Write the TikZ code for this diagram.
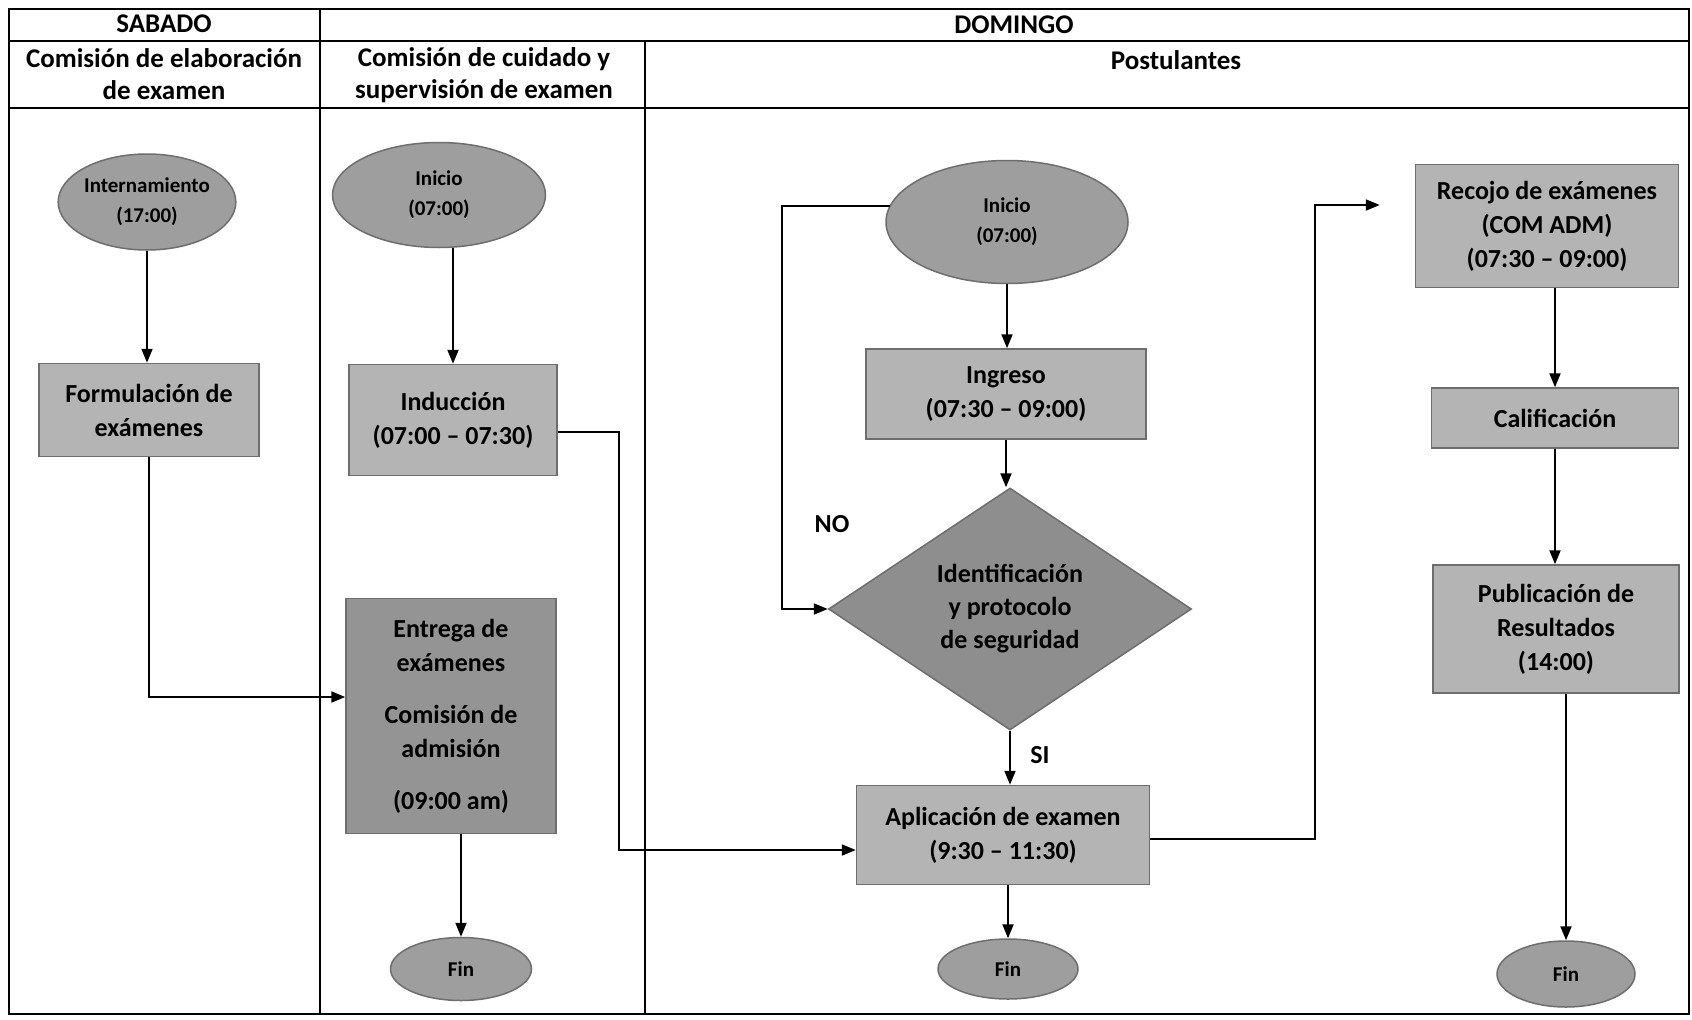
\documentclass[tikz,border=0pt]{standalone}
\usepackage{fontspec}
\setmainfont{Carlito}
\usetikzlibrary{shapes.geometric,arrows.meta,calc}
\definecolor{boxfill}{HTML}{B4B4B4}
\definecolor{ellfill}{HTML}{9E9E9E}
\definecolor{darkfill}{HTML}{8E8E8E}
\definecolor{edge}{HTML}{6E6E6E}
\tikzset{
  frame/.style={line width=2.4pt, black},
  procbox/.style={rectangle, draw=edge, line width=1.5pt, fill=boxfill, inner sep=0pt, align=center, font=\fontsize{26}{34}\selectfont\bfseries},
  termnode/.style={ellipse, draw=edge, line width=1.5pt, fill=ellfill, inner sep=0pt, align=center, font=\fontsize{21}{30}\selectfont\bfseries},
  decnode/.style={diamond, draw=edge, line width=1.5pt, fill=darkfill, inner sep=0pt, align=center, font=\fontsize{26}{33}\selectfont\bfseries},
  hdr/.style={align=center, inner sep=0pt, font=\fontsize{27}{32}\selectfont\bfseries},
  lbl/.style={inner sep=0pt, font=\fontsize{26}{30}\selectfont\bfseries},
  arr/.style={line width=2pt, black, -{Triangle[length=14pt,width=11pt]}},
}
\begin{document}
\begin{tikzpicture}[x=1pt,y=-1pt]
\useasboundingbox (0,0) rectangle (1692,1020);
\fill[white] (0,0) rectangle (1692,1020);
% table frame
\draw[frame] (9,9) rectangle (1689,1014);
\draw[frame] (9,41) -- (1689,41);
\draw[frame] (9,108) -- (1689,108);
\draw[frame] (320,9) -- (320,1014);
\draw[frame] (645,41) -- (645,1014);
% headers
\node[hdr] (hsab) at (164,24) {SABADO};
\node[hdr] (hdom) at (1014,25) {DOMINGO};
\node[hdr] (hc1) at (164,74) {Comisión de elaboración\\de examen};
\node[hdr] (hc2) at (484,75) {Comisión de cuidado y\\supervisión de examen};
\node[hdr] (hc3) at (1176,60) {Postulantes};
% column 1
\node[termnode, minimum width=175pt, minimum height=96pt] (int) at (147,202) {Internamiento\\(17:00)};
\node[procbox, minimum width=220pt, minimum height=93pt] (form) at (149,410) {Formulación de\\exámenes};
% column 2
\node[termnode, minimum width=213pt, minimum height=105pt] (ini2) at (439,195) {Inicio\\(07:00)};
\node[procbox, minimum width=208pt, minimum height=111pt] (ind) at (453,420) {Inducción\\(07:00 – 07:30)};
\node[procbox, fill=darkfill!95!white, minimum width=210pt, minimum height=235pt] (ent) at (451,716) {Entrega de\\exámenes\\[18pt]Comisión de\\admisión\\[18pt](09:00 am)};
\node[termnode, minimum width=141pt, minimum height=63pt] (fin2) at (461,969) {Fin};
% column 3
\node[termnode, minimum width=242pt, minimum height=123pt] (ini3) at (1007,222) {Inicio\\(07:00)};
\node[procbox, minimum width=280pt, minimum height=90pt] (ing) at (1006,394) {Ingreso\\(07:30 – 09:00)};
\node[decnode, minimum width=363pt, minimum height=242pt] (dia) at (1010,609) {Identificación\\y protocolo\\de seguridad};
\node[procbox, minimum width=293pt, minimum height=99pt] (apl) at (1003,835) {Aplicación de examen\\(9:30 – 11:30)};
\node[termnode, minimum width=140pt, minimum height=60pt] (fin3) at (1008,969) {Fin};
\node[lbl] (no) at (832,524) {NO};
\node[lbl] (si) at (1040,755) {SI};
% column 4
\node[procbox, minimum width=263pt, minimum height=123pt] (rec) at (1547,226) {Recojo de exámenes\\(COM ADM)\\(07:30 – 09:00)};
\node[procbox, minimum width=247pt, minimum height=60pt] (cal) at (1555,418) {Calificación};
\node[procbox, minimum width=246pt, minimum height=128pt] (pub) at (1556,629) {Publicación de\\Resultados\\(14:00)};
\node[termnode, minimum width=138pt, minimum height=66pt] (fin4) at (1566,974) {Fin};
% connectors
\draw[arr] (int.south) -- (int.south |- form.north);
\draw[arr] (form.south) |- ([yshift=19pt]ent.west);
\draw[arr] (ind.north |- ini2.south) -- (ind.north);
\draw[arr] (fin2.north |- ent.south) -- (fin2.north);
\draw[arr] ([yshift=-12pt]ind.east) -- ++(61,0) |- ([yshift=-15pt]apl.west);
\draw[arr] (ini3.south) -- (ini3.south |- ing.north);
\draw[arr] (ing.south) -- (ing.south |- dia.north);
\draw[arr] (ini3.172) -- ++(-108,0) |- (dia.west);
\draw[arr] (dia.south) -- (dia.south |- apl.north);
\draw[arr] (fin3.north |- apl.south) -- (fin3.north);
\draw[arr, shorten >=35pt] ([yshift=-4pt]apl.east) -- ++(165,0) |- ([yshift=21pt]rec.west);
\draw[arr] (cal.north |- rec.south) -- (cal.north);
\draw[arr] (cal.south) -- (cal.south |- pub.north);
\draw[arr] (fin4.north |- pub.south) -- (fin4.north);
\end{tikzpicture}
\end{document}
